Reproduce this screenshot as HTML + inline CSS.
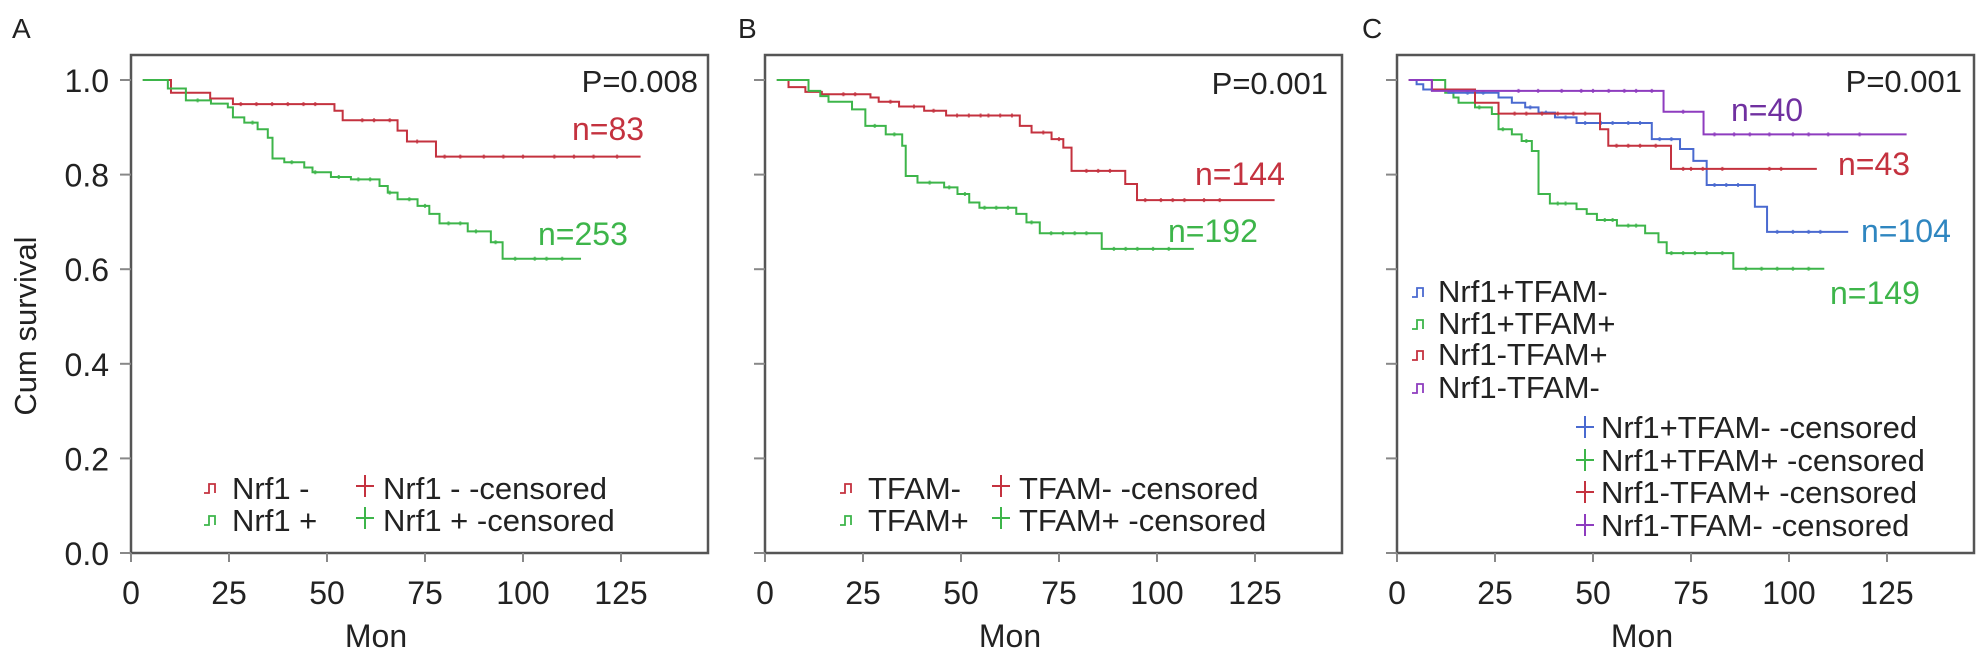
<!DOCTYPE html>
<html><head><meta charset="utf-8"><style>
html,body{margin:0;padding:0;background:#fff;}
svg{display:block;font-family:"Liberation Sans",Arial,sans-serif;}
</style></head><body>
<svg id="fig" width="1988" height="658" viewBox="0 0 1988 658" xmlns="http://www.w3.org/2000/svg">
<text x="12" y="38" font-size="28" fill="#222">A</text>
<text x="738" y="38" font-size="28" fill="#222">B</text>
<text x="1362" y="38" font-size="28" fill="#222">C</text>
<text transform="translate(36,326) rotate(-90)" text-anchor="middle" font-size="31" fill="#222">Cum survival</text>
</svg>
<script>
// ---- data ----
const xTicks = [0,25,50,75,100,125];
const yTicks = [0.0,0.2,0.4,0.6,0.8,1.0];
const yTickLabels = ["0.0","0.2","0.4","0.6","0.8","1.0"];
// Panel A
const aRedTimes = [10.2,20.2,26,51.9,54,68,70.4,77.8];
const aRedSurv  = [0.973,0.961,0.949,0.935,0.915,0.893,0.870,0.838];
const aRedEnd = 130;
const aRedCens = [28,32,36,40,44,47,59,62,66,73,80,84,90,95,100,108,113,118,124];
const aGreenTimes = [9.4,14,20.4,24.7,26,28.9,32.3,34.9,36.1,39.1,44.2,46.3,51,56.1,63.4,65.5,68,73.1,76.1,78.7,85.9,91.8,94.8];
const aGreenSurv  = [0.982,0.957,0.950,0.942,0.921,0.910,0.896,0.878,0.834,0.826,0.815,0.805,0.795,0.790,0.776,0.762,0.748,0.734,0.717,0.697,0.680,0.657,0.622];
const aGreenEnd = 114.8;
const aGreenCens = [17,31,41,47,53,58,61,66,71,75,81,84,88,93,98,103,106,110];
// Panel B
const bRedTimes = [6,10.3,14.5,26.9,29,34.2,40.6,46.2,65,68,73.1,76.1,78.2,91.9,94.9];
const bRedSurv  = [0.985,0.975,0.970,0.963,0.954,0.944,0.935,0.925,0.903,0.889,0.875,0.857,0.808,0.780,0.746];
const bRedEnd = 130;
const bRedCens = [20,23,32,38,43,49,52,55,57,60,63,71,75,82,85,88,97,101,104,107,112,116];
const bGreenTimes = [11.1,14.1,16.2,22.2,25.6,30.8,35,35.9,38.9,45.7,49.1,52.1,54.7,64.1,66.7,70.1,85.9];
const bGreenSurv  = [0.977,0.966,0.954,0.938,0.903,0.885,0.861,0.797,0.783,0.773,0.759,0.741,0.730,0.717,0.699,0.676,0.643];
const bGreenEnd = 109.4;
const bGreenCens = [28,33,42,47,51,56,59,62,68,73,76,79,82,89,92,95,99,103];
// Panel C
const cPurpleTimes = [8.9,68,78.2];
const cPurpleSurv  = [0.977,0.933,0.885];
const cPurpleEnd = 130;
const cPurpleCens = [31,36,42,47,50,54,58,61,65,73,81,86,90,95,101,105,110,118];
const cRedTimes = [8.9,19.9,25.9,51.8,53.9,69.9];
const cRedSurv  = [0.980,0.952,0.929,0.896,0.861,0.812];
const cRedEnd = 107.1;
const cRedCens = [30,33,37,41,45,48,56,59,62,66,73,75,78,83,95,98];
const cBlueTimes = [5,6.7,13.1,25.9,29.3,32.7,36.1,40.3,45.8,65,72.2,75.6,79,91.3,94.4];
const cBlueSurv  = [0.991,0.980,0.973,0.963,0.952,0.942,0.931,0.921,0.909,0.875,0.854,0.829,0.778,0.732,0.679];
const cBlueEnd = 115.1;
const cBlueCens = [18,22,34,38,43,48,52,55,59,62,67,70,81,84,87,97,101,105,108];
const cGreenTimes = [12.3,14.4,15.7,19.9,24.2,25.9,29.3,31.8,34.4,36.1,39,45.8,48.4,51,56.1,63.3,66.7,68.8,85.8];
const cGreenSurv  = [0.973,0.963,0.952,0.942,0.928,0.896,0.885,0.871,0.850,0.759,0.739,0.727,0.717,0.704,0.692,0.676,0.657,0.634,0.601];
const cGreenEnd = 109;
const cGreenCens = [21,27,33,41,43,53,55,59,61,70,73,76,79,83,89,93,97,101,105];

// ---- layout ----
const NS = "http://www.w3.org/2000/svg";
const svg = document.getElementById('fig');
const TOP = 55, BOT = 553, W = 577, PXU = 3.92, START = 3;
const RED = "#c4323f", GREEN = "#3db54a", BLUE = "#4a6ad0", PURPLE = "#8e3cbf";
function mk(tag, attrs, parent){ const e=document.createElementNS(NS,tag); for(const k in attrs) e.setAttribute(k,attrs[k]); (parent||svg).appendChild(e); return e; }
function yS(s){ return BOT - (BOT-TOP-25)*s; }

function panel(left, id, showY){
  const g = mk('g',{});
  
  
  const box = mk('rect',{x:left,y:TOP,width:W,height:BOT-TOP,fill:'none',stroke:'#555','stroke-width':2.5},g);
  
  
  xTicks.forEach(t=>{
    const x = left + t*PXU;
    const tk = mk('line',{x1:x,x2:x,y1:BOT,y2:BOT+9,stroke:'#888','stroke-width':2},g);
    
    
    const tl = mk('text',{x:x,y:604,'text-anchor':'middle','font-size':32,fill:'#222'},g);
    tl.textContent = t;
    
    
  });
  yTicks.forEach((v,i)=>{
    const y = yS(v);
    const tk = mk('line',{x1:left-11,x2:left,y1:y,y2:y,stroke:'#888','stroke-width':2},g);
    
    
    if(showY){
      const tl = mk('text',{x:left-22,y:y+12,'text-anchor':'end','font-size':32,fill:'#222'},g);
      tl.textContent = yTickLabels[i];
      
      
    }
  });
  const xt = mk('text',{x:left+62.5*PXU,y:647,'text-anchor':'middle','font-size':32,fill:'#222'},g);
  xt.textContent = 'Mon';
  
  
  return g;
}

function curve(left, times, surv, end, cens, color, name){
  let d = 'M'+(left+START*PXU)+','+yS(1);
  times.forEach((t,i)=>{ const x=left+t*PXU; d+=' H'+x+' V'+yS(surv[i]); });
  d += ' H'+(left+end*PXU);
  const p = mk('path',{d:d,fill:'none',stroke:color,'stroke-width':2});
  
  
  cens.forEach(ct=>{
    let s = 1;
    times.forEach((t,i)=>{ if(t<=ct) s=surv[i]; });
    const x = left+ct*PXU, y = yS(s);
    const c = mk('path',{d:'M'+(x-2)+','+y+' H'+(x+2)+' M'+x+','+(y-2)+' V'+(y+2),stroke:color,'stroke-width':2,opacity:0.8});
    
    
  });
}

function txt(x,y,s,size,color,anchor,name){
  const t = mk('text',{x:x,y:y,'font-size':size,fill:color,'text-anchor':anchor||'start'});
  t.textContent = s;
  
  
}
function stepSym(x,y,color,name){
  const p = mk('path',{d:'M'+(x-9)+','+(y+5)+' H'+(x-4)+' V'+(y-4)+' H'+(x+2)+' V'+(y+5),fill:'none',stroke:color,'stroke-width':1.8});
  
  
}
function plusSym(x,y,color,name){
  const p = mk('path',{d:'M'+(x-9)+','+y+' H'+(x+9)+' M'+x+','+(y-11)+' V'+(y+11),stroke:color,'stroke-width':2});
  
  
}

const LA = 131, LB = 765, LC = 1397;
panel(LA,'panel-a',true);
panel(LB,'panel-b',false);
panel(LC,'panel-c',false);

curve(LA,aRedTimes,aRedSurv,aRedEnd,aRedCens,RED,'a-nrf1-neg');
curve(LA,aGreenTimes,aGreenSurv,aGreenEnd,aGreenCens,GREEN,'a-nrf1-pos');
curve(LB,bRedTimes,bRedSurv,bRedEnd,bRedCens,RED,'b-tfam-neg');
curve(LB,bGreenTimes,bGreenSurv,bGreenEnd,bGreenCens,GREEN,'b-tfam-pos');
curve(LC,cGreenTimes,cGreenSurv,cGreenEnd,cGreenCens,GREEN,'c-nrf1pos-tfampos');
curve(LC,cBlueTimes,cBlueSurv,cBlueEnd,cBlueCens,BLUE,'c-nrf1pos-tfamneg');
curve(LC,cRedTimes,cRedSurv,cRedEnd,cRedCens,RED,'c-nrf1neg-tfampos');
curve(LC,cPurpleTimes,cPurpleSurv,cPurpleEnd,cPurpleCens,PURPLE,'c-nrf1neg-tfamneg');

// annotations
txt(698,92,'P=0.008',31,'#222','end','p-value-a');
txt(1328,94,'P=0.001',31,'#222','end','p-value-b');
txt(1962,92,'P=0.001',31,'#222','end','p-value-c');
txt(572,140,'n=83',32,RED,'start','n-label-a-red');
txt(538,245,'n=253',32,GREEN,'start','n-label-a-green');
txt(1195,185,'n=144',32,RED,'start','n-label-b-red');
txt(1168,242,'n=192',32,GREEN,'start','n-label-b-green');
txt(1731,121,'n=40',32,'#7030a0','start','n-label-c-purple');
txt(1838,175,'n=43',32,RED,'start','n-label-c-red');
txt(1861,242,'n=104',32,'#2f86c0','start','n-label-c-blue');
txt(1830,304,'n=149',32,GREEN,'start','n-label-c-green');

// legend A
stepSym(213,488,RED,'legend-a-nrf1-neg-symbol'); txt(232,499,'Nrf1 -',31,'#222','start','legend-a-nrf1-neg');
stepSym(213,520,GREEN,'legend-a-nrf1-pos-symbol'); txt(232,531,'Nrf1 +',31,'#222','start','legend-a-nrf1-pos');
plusSym(365,486,RED,'legend-a-nrf1-neg-censored-symbol'); txt(383,499,'Nrf1 - -censored',31,'#222','start','legend-a-nrf1-neg-censored');
plusSym(365,518,GREEN,'legend-a-nrf1-pos-censored-symbol'); txt(383,531,'Nrf1 + -censored',31,'#222','start','legend-a-nrf1-pos-censored');
// legend B
stepSym(849,488,RED,'legend-b-tfam-neg-symbol'); txt(868,499,'TFAM-',31,'#222','start','legend-b-tfam-neg');
stepSym(849,520,GREEN,'legend-b-tfam-pos-symbol'); txt(868,531,'TFAM+',31,'#222','start','legend-b-tfam-pos');
plusSym(1001,486,RED,'legend-b-tfam-neg-censored-symbol'); txt(1019,499,'TFAM- -censored',31,'#222','start','legend-b-tfam-neg-censored');
plusSym(1001,518,GREEN,'legend-b-tfam-pos-censored-symbol'); txt(1019,531,'TFAM+ -censored',31,'#222','start','legend-b-tfam-pos-censored');
// legend C
stepSym(1421,292,BLUE,'legend-c-1-symbol'); txt(1438,302,'Nrf1+TFAM-',31,'#222','start','legend-c-nrf1pos-tfamneg');
stepSym(1421,324,GREEN,'legend-c-2-symbol'); txt(1438,334,'Nrf1+TFAM+',31,'#222','start','legend-c-nrf1pos-tfampos');
stepSym(1421,355,RED,'legend-c-3-symbol'); txt(1438,365,'Nrf1-TFAM+',31,'#222','start','legend-c-nrf1neg-tfampos');
stepSym(1421,388,PURPLE,'legend-c-4-symbol'); txt(1438,398,'Nrf1-TFAM-',31,'#222','start','legend-c-nrf1neg-tfamneg');
plusSym(1585,427,BLUE,'legend-c-1-censored-symbol'); txt(1601,438,'Nrf1+TFAM- -censored',31,'#222','start','legend-c-nrf1pos-tfamneg-censored');
plusSym(1585,460,GREEN,'legend-c-2-censored-symbol'); txt(1601,471,'Nrf1+TFAM+ -censored',31,'#222','start','legend-c-nrf1pos-tfampos-censored');
plusSym(1585,492,RED,'legend-c-3-censored-symbol'); txt(1601,503,'Nrf1-TFAM+ -censored',31,'#222','start','legend-c-nrf1neg-tfampos-censored');
plusSym(1585,525,PURPLE,'legend-c-4-censored-symbol'); txt(1601,536,'Nrf1-TFAM- -censored',31,'#222','start','legend-c-nrf1neg-tfamneg-censored');
</script>
</body></html>
